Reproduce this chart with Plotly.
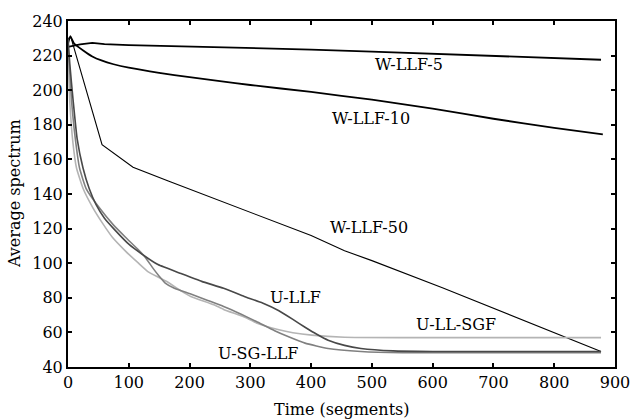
import plotly.graph_objects as go

# ---- data ----
w5_x = [0, 20, 40, 60, 100, 200, 300, 400, 500, 600, 700, 800, 877]
w5_y = [225, 226.5, 227.3, 226.6, 226.1, 225.3, 224.5, 223.5, 222.3, 221.0, 219.8, 218.6, 217.6]

w10_x = [0, 4, 10, 25, 40, 55, 75, 100, 150, 200, 250, 300, 400, 500, 600, 700, 800, 880]
w10_y = [229, 231, 227, 223, 219.5, 217.2, 215, 213, 210, 207.5, 205.2, 203, 199, 194.5, 189.3, 183.5, 178.2, 174.5]

w50_x = [0, 4, 56, 107, 165, 200, 310, 400, 455, 500, 616, 700, 800, 877]
w50_y = [226, 231.5, 168.5, 155.5, 147.5, 142.8, 128.3, 116.0, 107.2, 101.5, 85.8, 74.0, 60.2, 49.0]

ullf_x = [0, 3, 8.6, 15, 24.7, 35, 46, 60, 78.5, 100, 121.5, 148, 186, 220, 256, 290, 320, 347, 370, 390, 410, 428, 455, 482, 535, 600, 877]
ullf_y = [230, 215, 193.4, 172, 155, 143, 134, 126, 118.7, 111, 105.3, 99.2, 94, 89.5, 85.5, 80.8, 77, 72.5, 67.5, 63, 58.8, 55.5, 52.5, 50.7, 49.3, 49.0, 49.0]

usg_x = [0, 3, 6, 10, 19, 30, 51.6, 75, 94.6, 115, 127, 140, 150, 160, 175, 202, 230, 256, 285, 310, 340, 363, 390, 428, 482, 550, 877]
usg_y = [226, 210, 193, 178, 155, 143, 132, 122, 115, 108, 103.5, 97, 92.5, 88.5, 85.5, 82.2, 78.5, 75, 70.5, 66.3, 61, 57.5, 53.8, 50.7, 49, 48.3, 48.2]

ulls_x = [0, 3, 8, 14, 25, 41, 57, 73, 94.6, 116, 132, 148, 164.5, 186, 202, 240, 256, 293, 310, 347, 370, 401, 455, 550, 877]
ulls_y = [222, 193, 170, 155, 143, 132, 123, 115, 107, 100, 95, 92, 89, 84, 80.8, 76, 73.3, 68.5, 65.5, 61.5, 59.8, 58.4, 57.2, 57.0, 57.0]

label_text = ["W-LLF-5", "W-LLF-10", "W-LLF-50", "U-LLF", "U-LL-SGF", "U-SG-LLF"]
label_x = [561, 498, 495, 374, 638, 313]
label_y = [214.7, 183.7, 120.6, 80.4, 64.7, 48.0]

x_ticks = [0, 100, 200, 300, 400, 500, 600, 700, 800, 900]
y_ticks = [40, 60, 80, 100, 120, 140, 160, 180, 200, 220, 240]

FONT = "DejaVu Serif"
FS = 16

fig = go.Figure()
series = [
    (w5_x, w5_y, "black", 1.8, "linear"),
    (w10_x, w10_y, "black", 1.8, "spline"),
    (w50_x, w50_y, "black", 1.1, "linear"),
    (ulls_x, ulls_y, "#b4b4b4", 1.6, "spline"),
    (usg_x, usg_y, "#808080", 1.6, "spline"),
    (ullf_x, ullf_y, "#484848", 1.6, "spline"),
]
for xs, ys, col, w, shp in series:
    line = dict(color=col, width=w, shape=shp)
    if shp == "spline":
        line["smoothing"] = 0.4
    fig.add_trace(go.Scatter(x=xs, y=ys, mode="lines", line=line,
                             showlegend=False, hoverinfo="skip"))

for t, x, y in zip(label_text, label_x, label_y):
    fig.add_annotation(x=x, y=y, text=t, showarrow=False,
                       font=dict(family=FONT, size=FS, color="black"),
                       xanchor="center", yanchor="middle")

fig.add_annotation(xref="paper", yref="paper", x=0.5, y=-0.122,
                   text="Time (segments)", showarrow=False,
                   font=dict(family=FONT, size=FS, color="black"),
                   xanchor="center", yanchor="middle")
fig.add_annotation(xref="paper", yref="paper", x=-0.0985, y=0.5,
                   text="Average spectrum", showarrow=False, textangle=-90,
                   font=dict(family=FONT, size=FS, color="black"),
                   xanchor="center", yanchor="middle")

axis_common = dict(showline=True, linecolor="black", linewidth=2,
                   mirror="ticks", ticks="inside", ticklen=4, tickwidth=2,
                   tickcolor="black", showgrid=False, zeroline=False,
                   tickfont=dict(family=FONT, size=FS, color="black"))

fig.update_xaxes(range=[0, 900], tickvals=x_ticks, **axis_common)
fig.update_yaxes(range=[40, 240], tickvals=y_ticks, **axis_common)

fig.update_layout(width=642, height=419,
                  margin=dict(l=68, r=16, t=19, b=52),
                  paper_bgcolor="white", plot_bgcolor="white",
                  font=dict(family=FONT, size=FS, color="black"))

fig.write_html("out.html")
